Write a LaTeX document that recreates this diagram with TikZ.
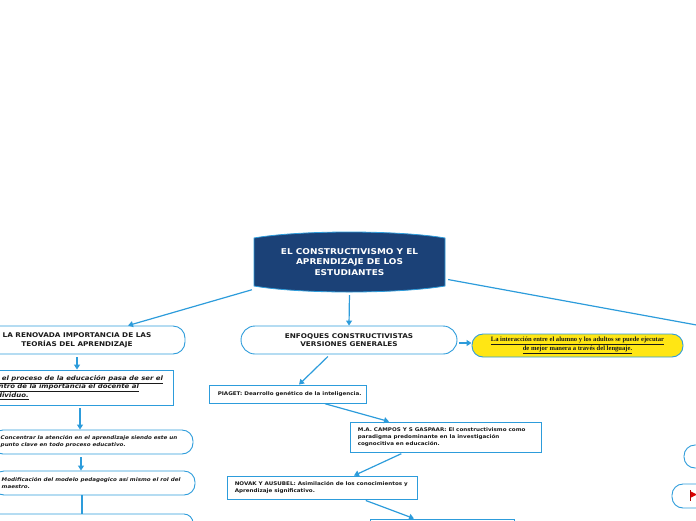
\documentclass[tikz,border=0pt]{standalone}
\usepackage{fontspec}
\setmainfont{DejaVu Sans}[FakeStretch=1.12]
\newfontfamily\yserif{Liberation Serif}
\usetikzlibrary{arrows.meta}
\definecolor{lblue}{HTML}{2D9CDB}
\definecolor{dblue}{HTML}{1B4177}
\definecolor{yel}{HTML}{FFE614}
\definecolor{txt}{HTML}{1A1A1A}
\begin{document}
\begin{tikzpicture}[x=1pt,y=-1pt,
  hdr/.style={draw=lblue, fill=white, line width=0.9pt, rounded corners=12pt, align=center, text=txt,
    font=\bfseries\fontsize{6.5}{8.5}\selectfont, inner sep=0pt},
  rbox/.style={draw=lblue, fill=white, line width=0.9pt, inner sep=0pt},
  itx/.style={font=\bfseries\itshape\fontsize{5}{7}\selectfont, text=txt, align=left, anchor=west, inner sep=0pt},
  stx/.style={font=\bfseries\fontsize{5}{7}\selectfont, text=txt, align=left, anchor=west, inner sep=0pt},
  conn/.style={draw=lblue, line width=1.2pt, -{Triangle[length=5pt,width=6pt]}},
  plain/.style={draw=lblue, line width=1.2pt}
]
\useasboundingbox (0,0) rectangle (696,520);
\clip (0,0) rectangle (696,520);

% central node
\fill[dblue] (254,238) .. controls (300,230) and (398,230) .. (445,238) -- (445,286)
  .. controls (398,294) and (300,294) .. (254,286) -- cycle;
\draw[lblue, line width=0.8pt] (254,238) .. controls (300,230) and (398,230) .. (445,238) -- (445,286)
  .. controls (398,294) and (300,294) .. (254,286) -- cycle;
\node[align=center, text=white, font=\bfseries\fontsize{8}{10.5}\selectfont, minimum width=191pt, minimum height=54pt, inner sep=0pt]
  (ctr) at (349.5,262) {EL CONSTRUCTIVISMO Y EL\\APRENDIZAJE DE LOS\\ESTUDIANTES};

% level 1
\node[hdr, minimum width=216pt, minimum height=28pt] (ren) at (77,340) {LA RENOVADA IMPORTANCIA DE LAS\\TEORÍAS DEL APRENDIZAJE};
\node[hdr, rounded corners=14pt, minimum width=216pt, minimum height=28pt] (enf) at (349,340) {ENFOQUES CONSTRUCTIVISTAS\\VERSIONES GENERALES};
\coordinate (offR) at (702,326);

% yellow node
\node[draw=lblue, fill=yel, line width=0.9pt, rounded corners=11pt, minimum width=211pt, minimum height=23pt,
  align=center, inner sep=0pt, font=\yserif\bfseries\fontsize{6.6}{7.2}\selectfont, text=txt]
  (yl) at (577.5,345.5) {\underline{La interacción entre el alumno y los adultos se puede ejecutar}\\\underline{de mejor manera a través del lenguaje.}};

% left column
\node[rbox, minimum width=189pt, minimum height=35pt] (proc) at (78.5,387.5) {};
\node[itx, font=\bfseries\itshape\fontsize{6.2}{8.5}\selectfont] (proct) at ([xshift=6pt]proc.west)
  {\underline{En el proceso de la educación pasa de ser el}\\\underline{centro de la importancia el docente al}\\\underline{individuo.}};

\node[rbox, rounded corners=11pt, minimum width=201pt, minimum height=24pt] (conc) at (92.5,442) {};
\node[itx] (conct) at ([xshift=9pt]conc.west) {Concentrar la atención en el aprendizaje siendo este un\\punto clave en todo proceso educativo.};

\node[rbox, rounded corners=11pt, minimum width=202pt, minimum height=24pt] (modi) at (94,483) {};
\node[itx] (modit) at ([xshift=9pt]modi.west) {Modificación del modelo pedagogico así mismo el rol del\\maestro.};

\node[rbox, rounded corners=9pt, minimum width=224pt, minimum height=30pt] (bl) at (81,529) {};

% middle column
\node[rbox, minimum width=157pt, minimum height=18pt] (pia) at (287.5,394) {};
\node[stx] (piat) at ([xshift=9pt]pia.west) {PIAGET: Dearrollo genético de la inteligencia.};

\node[rbox, minimum width=191pt, minimum height=30pt] (cam) at (445.5,437) {};
\node[stx] (camt) at ([xshift=8pt]cam.west) {M.A. CAMPOS Y S GASPAAR: El constructivismo como\\paradigma predominante en la investigación\\cognocitiva en educación.};

\node[rbox, minimum width=190pt, minimum height=23pt] (nov) at (322,487.5) {};
\node[stx] (novt) at ([xshift=8pt]nov.west) {NOVAK Y AUSUBEL: Asimilación de los conocimientos y\\Aprendizaje significativo.};

\node[rbox, minimum width=144pt, minimum height=30pt] (bm) at (442,534) {};

% right side nodes
\node[rbox, rounded corners=11pt, minimum width=86pt, minimum height=23pt] (r1) at (727,456.5) {};
\node[rbox, rounded corners=11pt, minimum width=98pt, minimum height=24pt] (r2) at (721,496) {};
\fill[red!85!black] (690,491) -- (697,494.5) -- (690,498) -- cycle;
\draw[red!70!black, line width=0.6pt] (690,490) -- (690,501);

% connectors
\draw[conn, shorten <=2pt] (ctr.south west) -- ([xshift=51pt]ren.north);
\draw[conn, shorten <=2pt] ([yshift=-4pt]ctr.south) -- (enf.north);
\draw[plain, shorten <=3pt] ([yshift=-17pt]ctr.east) -- (offR);
\draw[conn, shorten <=2pt] ([yshift=2.5pt]yl.west -| enf.east) -- ([yshift=2.5pt]yl.west);

\draw[conn, shorten <=3pt] (ren.south) -- (proc.north -| ren.south);
\draw[conn, shorten <=3pt] ([xshift=1.5pt]proc.south) -- ([xshift=1.5pt]proc.south |- conc.north);
\draw[conn, shorten <=3pt] ([xshift=-11.5pt]conc.south) -- ([xshift=-11.5pt]conc.south |- modi.north);
\draw[plain] ([xshift=-12pt]modi.south) -- ([xshift=-12pt]modi.south |- bl.north);

\draw[conn, shorten <=3pt] ([xshift=-19pt]enf.south) -- ([xshift=11.5pt]pia.north);
\draw[conn, shorten <=1pt] ([xshift=36.5pt]pia.south) -- ([xshift=-56.5pt]cam.north);
\draw[conn, shorten <=3pt] ([xshift=-41.5pt]cam.south) -- ([xshift=32pt]nov.north);
\draw[conn, shorten <=3pt] ([xshift=41pt]nov.south) -- ([xshift=-28pt]bm.north);
\end{tikzpicture}
\end{document}
